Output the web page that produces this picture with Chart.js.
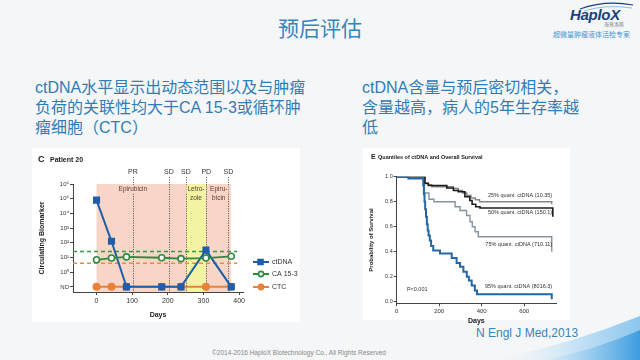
<!DOCTYPE html>
<html>
<head>
<meta charset="utf-8">
<script src="https://cdn.jsdelivr.net/npm/chart.js@4.4.0/dist/chart.umd.min.js"></script>
<style>
html, body { margin: 0; padding: 0; }
body { width: 640px; height: 360px; overflow: hidden; position: relative; background: #f4f6f7; font-family: "Liberation Sans", "Noto Sans CJK SC", sans-serif; }
.abs { position: absolute; }
#title { left: 0; width: 640px; top: 14px; text-align: center; font-size: 21px; line-height: 26px; color: #3586bd; font-family: "Noto Sans CJK SC"; }
.lead { font-size: 16px; line-height: 20px; color: #2f7db8; white-space: nowrap; }
#leadL { left: 35px; top: 78px; }
#leadR { left: 362px; top: 78px; }
.panel { background: #fff; }
#logo { left: 570px; top: 6px; font: italic bold 15px "Liberation Sans"; color: #1d3f7e; letter-spacing: -0.3px; }
#logoCn { left: 604px; top: 20px; font-size: 5px; color: #777; font-family: "Noto Sans CJK SC"; }
#slogan { left: 553px; top: 29px; font-size: 7px; color: #3f97d3; font-family: "Noto Sans CJK SC"; }
#ref { left: 476px; top: 326px; font-size: 12px; color: #3a85bb; }
#copy { left: 212px; top: 349px; font-size: 6.5px; color: #888; }
#swoosh { left: 0; top: 0; }
</style>
</head>
<body>
<svg id="swoosh" class="abs" width="640" height="360">
  <defs>
    <linearGradient id="sg" x1="0" y1="0" x2="1" y2="0">
      <stop offset="0" stop-color="#f4f6f7" stop-opacity="0"/>
      <stop offset="0.5" stop-color="#cfe6f6"/>
      <stop offset="1" stop-color="#8cc6ee"/>
    </linearGradient>
    <linearGradient id="sg2" x1="0" y1="0" x2="1" y2="0">
      <stop offset="0" stop-color="#bfe0f5" stop-opacity="0.2"/>
      <stop offset="1" stop-color="#3d9de0"/>
    </linearGradient>
  </defs>
  <path d="M492 360 Q565 346 640 316 L640 360 Z" fill="url(#sg)"/>
  <path d="M545 360 Q595 350 640 330 L640 360 Z" fill="url(#sg2)"/>
  <path d="M580 9 Q605 0 633 5" stroke="#1d3f7e" stroke-width="1.2" fill="none"/>
  <path d="M584 11 Q606 4 632 8" stroke="#6fb3e4" stroke-width="0.8" fill="none"/>
</svg>
<div id="title" class="abs">预后评估</div>
<div id="logo" class="abs">HaploX</div>
<div id="logoCn" class="abs">海普洛斯</div>
<div id="slogan" class="abs">超微量肿瘤液体活检专家</div>
<div id="leadL" class="abs lead">ctDNA水平显示出动态范围以及与肿瘤<br>负荷的关联性均大于CA 15-3或循环肿<br>瘤细胞（CTC）</div>
<div id="leadR" class="abs lead">ctDNA含量与预后密切相关，<br>含量越高，病人的5年生存率越<br>低</div>
<div class="abs panel" style="left:32px;top:148px;width:268px;height:174px;">
  <canvas id="patientChart" width="268" height="174"></canvas>
</div>
<div class="abs panel" style="left:363px;top:148px;width:207px;height:172px;">
  <canvas id="survivalChart" width="207" height="178"></canvas>
</div>
<div id="ref" class="abs">N Engl J Med,2013</div>
<div id="copy" class="abs">©2014-2016 HaploX Biotechnology Co., All Rights Reserved</div>

<script>
// Panel C: patient 20 biomarkers (log10 values, -1 = ND)
const sampleDays = [0, 42, 84, 183, 237, 307, 378];
const ctDNA = [4.9, 2.1, -1, -1, -1, 1.5, -1];
const ca153 = [0.84, 0.96, 1.04, 0.98, 0.92, 0.96, 1.08];
const ctc = [-1, -1, -1, -1, -1, -1, -1];
const ca153Cutoff = 1.4;
const ctcCutoff = 0.6;
const bioTicks = [-1, 0, 1, 2, 3, 4, 5, 6];
const dayTicks = [0, 100, 200, 300, 400];

const phaseStart = [0, 251, 307];
const phaseEnd = [251, 307, 377];
const phaseDrug = [['Epirubicin'], ['Letro-', 'zole'], ['Epiru-', 'bicin']];
const phaseLabelDay = [102, 279, 343];
const respDays = [102, 203, 251, 308, 370];
const respLabels = ['PR', 'SD', 'SD', 'PD', 'SD'];

// Panel E: Kaplan-Meier curves by ctDNA quantile
const q25Days = [0, 133, 149, 165, 267, 290, 310, 330, 350, 370, 390, 730];
const q25Surv = [1, 0.95, 0.935, 0.92, 0.905, 0.89, 0.87, 0.85, 0.83, 0.815, 0.80, 0.78];
const q50Days = [0, 133, 149, 236, 267, 290, 321, 344, 355, 372, 392, 735];
const q50Surv = [1, 0.945, 0.93, 0.91, 0.89, 0.88, 0.84, 0.81, 0.78, 0.76, 0.75, 0.68];
const q75Days = [0, 130, 152, 175, 275, 298, 329, 345, 356, 369, 384, 730];
const q75Surv = [1, 0.87, 0.82, 0.80, 0.76, 0.73, 0.69, 0.64, 0.60, 0.56, 0.52, 0.40];
const q95Days = [0, 55, 125, 128, 131, 134, 138, 142, 146, 150, 156, 162, 172, 204, 259, 282, 298, 314, 330, 340, 353, 368, 378, 730];
const q95Surv = [1, 0.985, 0.93, 0.86, 0.80, 0.74, 0.68, 0.62, 0.57, 0.53, 0.49, 0.445, 0.41, 0.385, 0.35, 0.31, 0.28, 0.24, 0.20, 0.17, 0.13, 0.09, 0.06, 0.02];
const survTicks = [0, 0.2, 0.4, 0.6, 0.8, 1.0];
const survDayTicks = [0, 200, 400, 600];

const pts = (xs, ys) => xs.map((v, i) => ({ x: v, y: ys[i] }));
const sup = { '0': '⁰', '1': '¹', '2': '²', '3': '³', '4': '⁴', '5': '⁵', '6': '⁶' };
const axisGrey = '#444';

const patientDecor = {
    id: 'patientDecor',
    beforeDatasetsDraw(chart) {
        const { ctx, chartArea: a, scales: { x, y } } = chart;
        const top = y.getPixelForValue(6);
        ctx.save();
        phaseStart.forEach((s, i) => {
            const x0 = x.getPixelForValue(s);
            const x1 = x.getPixelForValue(phaseEnd[i]);
            ctx.fillStyle = i === 1 ? '#f2f4a4' : '#f9d5c8';
            ctx.fillRect(x0, top, x1 - x0, a.bottom - top);
        });
        ctx.strokeStyle = '#444';
        ctx.lineWidth = 0.8;
        ctx.setLineDash([1.2, 1.2]);
        respDays.forEach(d => {
            const px = Math.round(x.getPixelForValue(d)) + 0.5;
            ctx.beginPath();
            ctx.moveTo(px, top - 7);
            ctx.lineTo(px, a.bottom);
            ctx.stroke();
        });
        ctx.setLineDash([]);
        ctx.fillStyle = '#333';
        ctx.font = '7px "Liberation Sans"';
        ctx.textAlign = 'center';
        ctx.textBaseline = 'middle';
        respDays.forEach((d, i) => ctx.fillText(respLabels[i], x.getPixelForValue(d), top - 12));
        ctx.font = '6.5px "Liberation Sans"';
        phaseDrug.forEach((lines, i) => {
            const px = x.getPixelForValue(phaseLabelDay[i]);
            lines.forEach((t, j) => {
                const w = ctx.measureText(t).width;
                ctx.fillStyle = i === 1 ? '#f2f4a4' : '#f9d5c8';
                ctx.fillRect(px - w / 2 - 1, top + 1 + j * 9, w + 2, 8);
                ctx.fillStyle = '#5b3b33';
                ctx.fillText(t, px, top + 5 + j * 9);
            });
        });
        ctx.restore();
    },
    afterDraw(chart) {
        const { ctx } = chart;
        ctx.save();
        ctx.fillStyle = '#222';
        ctx.textBaseline = 'middle';
        ctx.font = 'bold 9px "Liberation Sans"';
        ctx.fillText('C', 6, 12);
        ctx.font = 'bold 7px "Liberation Sans"';
        ctx.fillText('Patient 20', 18, 12);
        // legend
        const rows = [114, 126, 139];
        chart.data.datasets.slice(0, 3).forEach((ds, i) => {
            const yy = rows[i];
            ctx.strokeStyle = ds.borderColor;
            ctx.lineWidth = 2;
            ctx.beginPath();
            ctx.moveTo(221, yy);
            ctx.lineTo(237, yy);
            ctx.stroke();
            ctx.fillStyle = ds.backgroundColor;
            ctx.lineWidth = 1.6;
            ctx.beginPath();
            if (ds.pointStyle === 'rect') {
                ctx.rect(226, yy - 2.5, 5, 5);
            } else {
                ctx.arc(229, yy, 2.6, 0, Math.PI * 2);
            }
            ctx.fill();
            ctx.stroke();
            ctx.fillStyle = '#333';
            ctx.font = '7px "Liberation Sans"';
            ctx.fillText(ds.label, 240, yy);
        });
        ctx.restore();
    }
};

new Chart(document.getElementById('patientChart'), {
    type: 'line',
    data: {
        datasets: [{
            label: 'ctDNA',
            data: pts(sampleDays, ctDNA),
            borderColor: '#1f5ea8',
            backgroundColor: '#1f5ea8',
            pointStyle: 'rect',
            pointRadius: 3.6,
            borderWidth: 2,
            order: 1
        }, {
            label: 'CA 15-3',
            data: pts(sampleDays, ca153),
            borderColor: '#2d8a3e',
            backgroundColor: '#ffffff',
            pointStyle: 'circle',
            pointRadius: 3,
            pointBorderWidth: 1.6,
            borderWidth: 1.8,
            order: 0
        }, {
            label: 'CTC',
            data: pts(sampleDays, ctc),
            borderColor: '#e8823a',
            backgroundColor: '#e8823a',
            pointStyle: 'circle',
            pointRadius: 3,
            borderWidth: 2,
            order: 2
        }, {
            label: 'CA 15-3 cutoff',
            data: [{ x: -66, y: ca153Cutoff }, { x: 395, y: ca153Cutoff }],
            borderColor: '#2f9a45',
            borderDash: [4, 3],
            borderWidth: 1.5,
            pointRadius: 0,
            order: 3
        }, {
            label: 'CTC cutoff',
            data: [{ x: -66, y: ctcCutoff }, { x: 395, y: ctcCutoff }],
            borderColor: '#ee8a3c',
            borderDash: [4, 3],
            borderWidth: 1.5,
            pointRadius: 0,
            order: 4
        }]
    },
    options: {
        responsive: false,
        animation: false,
        layout: { padding: { left: 4, right: 57, top: 36, bottom: 0 } },
        plugins: { legend: { display: false }, tooltip: { enabled: false } },
        scales: {
            x: {
                type: 'linear',
                min: -66,
                max: 411,
                afterBuildTicks: s => { s.ticks = dayTicks.map(v => ({ value: v })); },
                afterFit: s => { s.height = 30; },
                ticks: { color: '#333', font: { size: 7, family: 'Liberation Sans' }, padding: 2 },
                grid: { drawOnChartArea: false, tickLength: 3, color: axisGrey },
                border: { color: axisGrey },
                title: { display: true, text: 'Days', color: '#222', font: { size: 7, weight: 'bold', family: 'Liberation Sans' }, padding: { top: 4, bottom: 3 } }
            },
            y: {
                type: 'linear',
                min: -1.35,
                max: 6,
                afterBuildTicks: s => { s.ticks = bioTicks.map(v => ({ value: v })); },
                afterFit: s => { s.width = 37; },
                ticks: {
                    color: '#333',
                    padding: 1,
                    font: { size: 6, family: 'Liberation Sans' },
                    callback: v => v === -1 ? 'ND' : '10' + sup[String(v)]
                },
                grid: { drawOnChartArea: false, tickLength: 3, color: axisGrey },
                border: { color: axisGrey },
                title: { display: true, text: 'Circulating Biomarker', color: '#222', font: { size: 7, weight: 'bold', family: 'Liberation Sans' }, padding: { top: 2, bottom: 2 } }
            }
        }
    },
    plugins: [patientDecor]
});

const survivalDecor = {
    id: 'survivalDecor',
    afterDraw(chart) {
        const { ctx, scales: { x, y } } = chart;
        ctx.save();
        ctx.fillStyle = '#222';
        ctx.textBaseline = 'middle';
        ctx.font = 'bold 7px "Liberation Sans"';
        ctx.fillText('E', 8, 9);
        ctx.font = 'bold 5.5px "Liberation Sans"';
        ctx.fillText('Quantiles of ctDNA and Overall Survival', 15, 9);
        ctx.font = '5.5px "Liberation Sans"';
        ctx.fillStyle = '#333';
        ctx.textAlign = 'right';
        const labels = [
            ['25% quant. ctDNA (10.35)', 0.846],
            ['50% quant. ctDNA (150.1)', 0.71],
            ['75% quant. ctDNA (710.11)', 0.454],
            ['95% quant. ctDNA (8016.3)', 0.118]
        ];
        labels.forEach(([t, v]) => ctx.fillText(t, x.getPixelForValue(732), y.getPixelForValue(v)));
        ctx.textAlign = 'left';
        ctx.fillText('P<0.001', x.getPixelForValue(48), y.getPixelForValue(0.094));
        ctx.restore();
    }
};

const kmLine = (label, xs, ys, color, width) => ({
    label,
    data: pts(xs, ys),
    borderColor: color,
    borderWidth: width,
    stepped: true,
    pointRadius: 0,
    fill: false
});

new Chart(document.getElementById('survivalChart'), {
    type: 'line',
    data: {
        datasets: [
            kmLine('95% quant. ctDNA', q95Days, q95Surv, '#2566a3', 2),
            kmLine('50% quant. ctDNA', q50Days, q50Surv, '#1c1c1c', 1.6),
            kmLine('25% quant. ctDNA', q25Days, q25Surv, '#858585', 1.4),
            kmLine('75% quant. ctDNA', q75Days, q75Surv, '#8593a0', 1.4)
        ]
    },
    options: {
        responsive: false,
        animation: false,
        layout: { padding: { left: 3, right: 14, top: 28.7, bottom: 0 } },
        plugins: { legend: { display: false }, tooltip: { enabled: false } },
        scales: {
            x: {
                type: 'linear',
                min: 0,
                max: 750,
                afterBuildTicks: s => { s.ticks = survDayTicks.map(v => ({ value: v })); },
                afterFit: s => { s.height = 22.7; },
                ticks: { color: '#333', font: { size: 6, family: 'Liberation Sans' }, padding: 1 },
                grid: { drawOnChartArea: false, tickLength: 3, color: axisGrey },
                border: { color: axisGrey },
                title: { display: true, text: 'Days', color: '#222', font: { size: 7, weight: 'bold', family: 'Liberation Sans' }, padding: { top: 2, bottom: 1 } }
            },
            y: {
                type: 'linear',
                min: -0.013,
                max: 1.0,
                afterBuildTicks: s => { s.ticks = survTicks.map(v => ({ value: v })); },
                afterFit: s => { s.width = 30.7; },
                ticks: { color: '#333', padding: 1, font: { size: 5.5, family: 'Liberation Sans' }, callback: v => v.toFixed(1) },
                grid: { drawOnChartArea: false, tickLength: 3, color: axisGrey },
                border: { color: axisGrey },
                title: { display: true, text: 'Probability of Survival', color: '#222', font: { size: 6, weight: 'bold', family: 'Liberation Sans' }, padding: { top: 2, bottom: 2 } }
            }
        }
    },
    plugins: [survivalDecor]
});
</script>
</body>
</html>
